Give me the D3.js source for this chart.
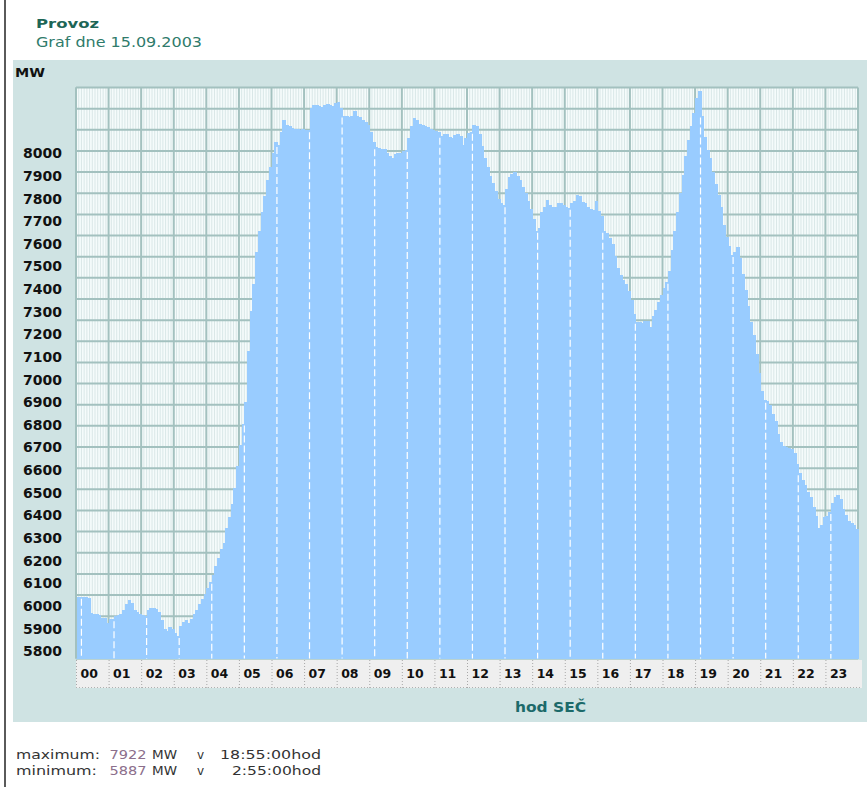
<!DOCTYPE html>
<html>
<head>
    <title>Provoz - graf dne 15.09.2003</title>
    <script src="https://cdn.jsdelivr.net/npm/d3@7/dist/d3.min.js"></script>
    <style>
        body { margin: 0; background: #ffffff; }
        #drawingPlace text { font-family: "DejaVu Sans", Verdana, sans-serif; }
    </style>
</head>
<body>
<svg id="drawingPlace" width="867" height="787"></svg>
<script>
// hour labels under the chart
var hourLabels = ["00","01","02","03","04","05","06","07","08","09","10","11",
                  "12","13","14","15","16","17","18","19","20","21","22","23"];

// labels down the left side
var yTickLabels = [8000,7900,7800,7700,7600,7500,7400,7300,7200,7100,7000,
                   6900,6800,6700,6600,6500,6400,6300,6200,6100,6000,5900,5800];

// 5 minute load in MW, one value per column (288)
// the first two columns sit before the 00 data hour starts
var loadMW = [
    6034, 6034,
    6034, 6034, 6030, 5972, 5968, 5970, 5966, 5955, 5955, 5935, 5952, 5950, // 00
    5962, 5965, 5968, 5985, 6008, 6020, 6010, 5985, 5978, 5968, 5965, 5962, // 01
    5985, 5990, 5990, 5988, 5975, 5945, 5912, 5905, 5922, 5915, 5900, 5887, // 02
    5925, 5940, 5948, 5935, 5950, 5970, 5985, 6005, 6025, 6045, 6068, 6090, // 03
    6115, 6150, 6180, 6210, 6235, 6290, 6330, 6380, 6440, 6520, 6600, 6680, // 04
    6760, 6950, 7100, 7200, 7320, 7400, 7470, 7530, 7590, 7640, 7690, 7730, // 05
    7720, 7770, 7812, 7795, 7790, 7785, 7780, 7780, 7778, 7780, 7778, 7775, // 06
    7860, 7868, 7870, 7866, 7862, 7870, 7872, 7868, 7865, 7878, 7882, 7860, // 07
    7830, 7828, 7826, 7828, 7848, 7830, 7824, 7812, 7808, 7795, 7770, 7730, // 08
    7712, 7710, 7705, 7706, 7692, 7680, 7672, 7685, 7690, 7692, 7698, 7702, // 09
    7745, 7790, 7820, 7815, 7800, 7795, 7790, 7788, 7780, 7775, 7772, 7770, // 10
    7755, 7760, 7762, 7750, 7745, 7758, 7760, 7755, 7720, 7745, 7765, 7770, // 11
    7795, 7790, 7760, 7715, 7670, 7640, 7605, 7580, 7550, 7520, 7505, 7495, // 12
    7555, 7600, 7612, 7620, 7605, 7590, 7565, 7540, 7510, 7480, 7445, 7400, // 13
    7410, 7470, 7490, 7515, 7495, 7490, 7488, 7505, 7505, 7498, 7490, 7486, // 14
    7505, 7510, 7535, 7530, 7508, 7505, 7490, 7482, 7478, 7510, 7475, 7455, // 15
    7400, 7390, 7372, 7350, 7305, 7260, 7235, 7215, 7200, 7175, 7140, 7090, // 16
    7060, 7058, 7055, 7065, 7062, 7042, 7080, 7105, 7135, 7160, 7185, 7210, // 17
    7250, 7330, 7400, 7470, 7540, 7610, 7680, 7740, 7790, 7840, 7895, 7922, // 18
    7830, 7750, 7700, 7670, 7620, 7575, 7535, 7490, 7420, 7375, 7345, 7310, // 19
    7320, 7340, 7300, 7240, 7180, 7120, 7060, 7010, 6940, 6870, 6800, 6770, // 20
    6765, 6750, 6715, 6690, 6640, 6610, 6595, 6592, 6590, 6585, 6570, 6530, // 21
    6495, 6470, 6450, 6425, 6405, 6370, 6335, 6290, 6300, 6330, 6335, 6350, // 22
    6385, 6405, 6412, 6400, 6360, 6340, 6318, 6310, 6300, 6285              // 23
];

// summary lines under the chart
var summaryNames = ["maximum:", "minimum:"];
var summaryValues = [7922, 5887];
var summaryTimes = ["18:55:00hod", "2:55:00hod"];

var svg = d3.select("#drawingPlace");

//plot area
var plotLeft = 76, plotRight = 858, plotTop = 87.5, plotBottom = 658.5;
var gridColor = "#a3c1bf";

//scales
var x = d3.scaleBand()
    .domain(d3.range(loadMW.length))
    .range([plotLeft, plotRight]);
var xHour = d3.scaleLinear()
    .domain([0, 24])
    .range([plotLeft, plotRight]);
var y = d3.scaleLinear()
    .domain([5803, 7935])
    .range([plotBottom, plotTop]);
// the printed labels do not sit on the data scale, they have their own spacing
var yLab = d3.scaleLinear()
    .domain([5800, 8000])
    .range([651.2, 153.3]);
var row = d3.scaleLinear()
    .domain([0, 27])
    .range([plotTop, plotBottom]);

//dark rule on the far left
svg.append("rect")
    .attr("x", 4).attr("y", 0)
    .attr("width", 2).attr("height", 787)
    .attr("fill", "#5a5a5a");

//titles
svg.append("text")
    .attr("x", 36).attr("y", 28)
    .attr("font-size", 13).attr("font-weight", "bold")
    .attr("fill", "#1d6656")
    .attr("textLength", 63).attr("lengthAdjust", "spacingAndGlyphs")
    .text("Provoz");
svg.append("text")
    .attr("x", 36).attr("y", 46.5)
    .attr("font-size", 13.5)
    .attr("fill", "#2f7b6b")
    .attr("textLength", 166).attr("lengthAdjust", "spacingAndGlyphs")
    .text("Graf dne 15.09.2003");

//panel behind the chart
svg.append("rect")
    .attr("x", 13).attr("y", 60)
    .attr("width", 854).attr("height", 662)
    .attr("fill", "#cfe3e3");

svg.append("text")
    .attr("x", 15).attr("y", 77)
    .attr("font-size", 12).attr("font-weight", "bold")
    .attr("fill", "#111")
    .attr("textLength", 30).attr("lengthAdjust", "spacingAndGlyphs")
    .text("MW");

//plot background with thin column lines
svg.append("rect")
    .attr("x", plotLeft).attr("y", plotTop)
    .attr("width", plotRight - plotLeft).attr("height", plotBottom - plotTop)
    .attr("fill", "#f5fbfb");

svg.append("g")
    .selectAll("line")
    .data(d3.range(loadMW.length))
    .enter()
    .append("line")
    .attr("x1", d => x(d) + x.bandwidth())
    .attr("x2", d => x(d) + x.bandwidth())
    .attr("y1", plotTop).attr("y2", plotBottom)
    .attr("stroke", "#d9e7e7")
    .attr("stroke-width", 1);

//grid rows and hour lines
svg.append("g")
    .selectAll("line")
    .data(d3.range(28))
    .enter()
    .append("line")
    .attr("x1", plotLeft).attr("x2", plotRight)
    .attr("y1", d => row(d)).attr("y2", d => row(d))
    .attr("stroke", gridColor)
    .attr("stroke-width", 2);

svg.append("g")
    .selectAll("line")
    .data(d3.range(25))
    .enter()
    .append("line")
    .attr("x1", d => xHour(d)).attr("x2", d => xHour(d))
    .attr("y1", plotTop).attr("y2", plotBottom)
    .attr("stroke", gridColor)
    .attr("stroke-width", 2);

//bars, drawn crisp and slightly overlapping so no seams show
svg.append("g")
    .attr("shape-rendering", "crispEdges")
    .selectAll("rect")
    .data(loadMW)
    .enter()
    .append("rect")
    .attr("x", (d, i) => x(i))
    .attr("width", x.bandwidth() + 1)
    .attr("y", d => y(d))
    .attr("height", d => plotBottom - y(d))
    .attr("fill", "#99ccff");

//white dashed marks where each data hour starts
var hourStarts = hourLabels.map((h, i) => 2 + 12 * i);
svg.append("g")
    .selectAll("line")
    .data(hourStarts)
    .enter()
    .append("line")
    .attr("x1", d => x(d)).attr("x2", d => x(d))
    .attr("y1", d => y(Math.min(loadMW[d - 1], loadMW[d])) + 2)
    .attr("y2", plotBottom)
    .attr("stroke", "#ffffff")
    .attr("stroke-width", 1.2)
    .attr("stroke-dasharray", "7,3");

svg.append("line")
    .attr("x1", plotLeft).attr("x2", plotLeft)
    .attr("y1", plotTop).attr("y2", plotBottom)
    .attr("stroke", gridColor)
    .attr("stroke-width", 2);

//hour strip
svg.append("rect")
    .attr("x", plotLeft).attr("y", 660)
    .attr("width", 786).attr("height", 28)
    .attr("fill", "#efefef");

var xAxis = svg.append("g")
    .attr("transform", "translate(0,660)")
    .call(d3.axisBottom(xHour)
        .tickValues(d3.range(24))
        .tickFormat(d => hourLabels[d])
        .tickSize(28));
xAxis.select(".domain").remove();
xAxis.selectAll("line")
    .attr("stroke", "#a8a8a8")
    .attr("stroke-dasharray", "1,2");
xAxis.selectAll("text")
    .attr("x", 4).attr("y", 17.5).attr("dy", 0)
    .attr("text-anchor", "start")
    .attr("font-size", 12.5).attr("font-weight", "bold")
    .attr("fill", "#111");

svg.append("line")
    .attr("x1", plotLeft).attr("x2", plotLeft + 786)
    .attr("y1", 687.5).attr("y2", 687.5)
    .attr("stroke", "#b0b0b0")
    .attr("stroke-dasharray", "1,2");

//y labels
var yAxis = svg.append("g")
    .attr("transform", "translate(62,0)")
    .call(d3.axisLeft(yLab)
        .tickValues(yTickLabels)
        .tickFormat(d3.format("d"))
        .tickSize(0)
        .tickPadding(0));
yAxis.select(".domain").remove();
yAxis.selectAll("text")
    .attr("font-size", 14).attr("font-weight", "bold")
    .attr("fill", "#111");

svg.append("text")
    .attr("x", 515).attr("y", 712)
    .attr("font-size", 14).attr("font-weight", "bold")
    .attr("fill", "#1c6a6a")
    .attr("textLength", 71).attr("lengthAdjust", "spacingAndGlyphs")
    .text("hod SEČ");

//maximum / minimum lines
var summary = svg.append("g")
    .attr("font-size", 12)
    .attr("fill", "#333");
summaryNames.forEach(function (name, i) {
    var base = 758.5 + i * 16.5;
    summary.append("text")
        .attr("x", 16).attr("y", base)
        .attr("textLength", i == 0 ? 84 : 81).attr("lengthAdjust", "spacingAndGlyphs")
        .text(name);
    summary.append("text")
        .attr("x", 109.5).attr("y", base)
        .attr("fill", "#8c6f8c")
        .attr("textLength", 37).attr("lengthAdjust", "spacingAndGlyphs")
        .text(summaryValues[i]);
    summary.append("text")
        .attr("x", 152).attr("y", base)
        .attr("textLength", 25).attr("lengthAdjust", "spacingAndGlyphs")
        .text("MW");
    summary.append("text")
        .attr("x", 197).attr("y", base)
        .text("v");
    summary.append("text")
        .attr("x", 321).attr("y", base)
        .attr("text-anchor", "end")
        .attr("textLength", i == 0 ? 101 : 89).attr("lengthAdjust", "spacingAndGlyphs")
        .text(summaryTimes[i]);
});
</script>
</body>
</html>
